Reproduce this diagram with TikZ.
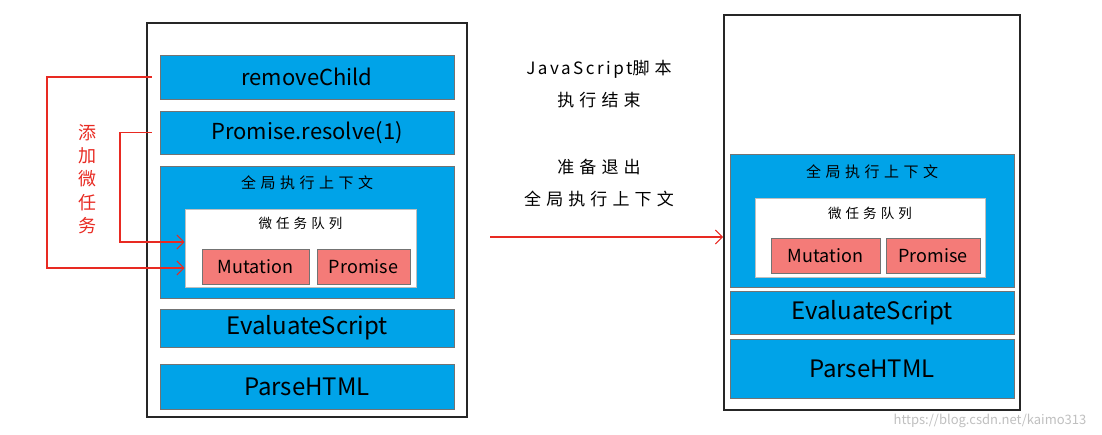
\documentclass[tikz,border=0pt]{standalone}
\usepackage{fontspec}
\setmainfont{Noto Sans CJK SC}
\newfontfamily\hand[LetterSpace=30]{Noto Sans CJK SC}
\newfontfamily\handlat[LetterSpace=15]{Noto Sans CJK SC}
\usetikzlibrary{arrows.meta,calc}
\definecolor{skyb}{HTML}{00A3E8}
\definecolor{salmon}{HTML}{F47B78}
\definecolor{redline}{HTML}{E82A22}

\begin{document}
\begin{tikzpicture}[x=1pt,y=-1pt,
  frame/.style={draw=black!85,line width=1.6pt,fill=white},
  blk/.style={draw=black!55,line width=0.8pt,fill=skyb,inner sep=0pt,font=\fontsize{22}{24}\selectfont},
  big/.style={font=\fontsize{24}{26}\selectfont},
  queue/.style={draw=black!25,line width=0.6pt,fill=white,inner sep=0pt},
  task/.style={draw=black!55,line width=0.8pt,fill=salmon,inner sep=0pt,font=\fontsize{18}{20}\selectfont},
  title/.style={inner sep=0pt,font=\hand\fontsize{15}{17}\selectfont},
  qtitle/.style={inner sep=0pt,font=\hand\fontsize{13.5}{15}\selectfont},
  note/.style={inner sep=0pt,font=\hand\fontsize{17}{19}\selectfont},
  redarr/.style={redline,line width=1.1pt,-{Straight Barb[length=7pt,width=14pt,line width=1.1pt]}}]
\useasboundingbox (0,0) rectangle (1102,434);

% Left stack: during script
\node[frame,minimum width=320pt,minimum height=394pt] (outL) at (307,220) {};
\node[blk,minimum width=294pt,minimum height=44pt] (rc) at (307,77) {removeChild};
\node[blk,minimum width=294pt,minimum height=43pt] (pr) at (307,132.5) {Promise.resolve(1)};
\node[blk,minimum width=294pt,minimum height=132pt] (gcL) at (307,232) {};
\node[title] (gcLt) at (307,183) {全局执行上下文};
\node[queue,minimum width=231pt,minimum height=78pt] (mqL) at (300.5,248) {};
\node[qtitle] (mqLt) at (300.5,223) {微任务队列};
\node[task,minimum width=107pt,minimum height=35pt] (mutL) at (255.5,266.5) {Mutation};
\node[task,minimum width=93pt,minimum height=35pt] (proL) at (363.5,266.5) {Promise};
\node[blk,big,minimum width=294pt,minimum height=38pt] (evL) at (307,328) {EvaluateScript};
\node[blk,big,minimum width=294pt,minimum height=45pt] (phL) at (307,386.5) {ParseHTML};

% adding micro tasks
\node[inner sep=0pt,align=center,text=redline,font=\hand\fontsize{18}{23.3}\selectfont] (add) at (87,179) {添\\加\\微\\任\\务};
\coordinate (k1) at (47,268);
\coordinate (k2) at (120,242);
\draw[redarr] ([xshift=-8pt]rc.west) -| (k1) -- (k1 -| mqL.west);
\draw[redarr] ([xshift=-8pt]pr.west) -| (k2) -- (k2 -| mqL.west);

% Middle notes and arrow
\node[note] (n1) at (599,69) {{\handlat JavaScript}脚本};
\node[note] (n2) at (599,100) {执行结束};
\node[note] (n3) at (599,167) {准备退出};
\node[note] (n4) at (599,199) {全局执行上下文};

% Right stack: script finished
\node[frame,minimum width=296pt,minimum height=395pt] (outR) at (872,212.5) {};
\node[blk,minimum width=284pt,minimum height=133pt] (gcR) at (872,220.5) {};
\node[title] (gcRt) at (872,172) {全局执行上下文};
\node[queue,minimum width=230pt,minimum height=79pt] (mqR) at (870,237.5) {};
\node[qtitle] (mqRt) at (870,213) {微任务队列};
\node[task,minimum width=109pt,minimum height=35pt] (mutR) at (825.5,255.5) {Mutation};
\node[task,minimum width=94pt,minimum height=35pt] (proR) at (933,255.5) {Promise};
\node[blk,big,minimum width=284pt,minimum height=43pt] (evR) at (872,312.5) {EvaluateScript};
\node[blk,big,minimum width=284pt,minimum height=59pt] (phR) at (872,368.5) {ParseHTML};

\coordinate (st) at (490,237);
\draw[redarr] (st) -- (st -| outR.west);

% watermark
\node[inner sep=0pt,text=black!25,font=\fontsize{13}{15}\selectfont] (wm) at (990,421) {https://blog.csdn.net/kaimo313};
\end{tikzpicture}
\end{document}
